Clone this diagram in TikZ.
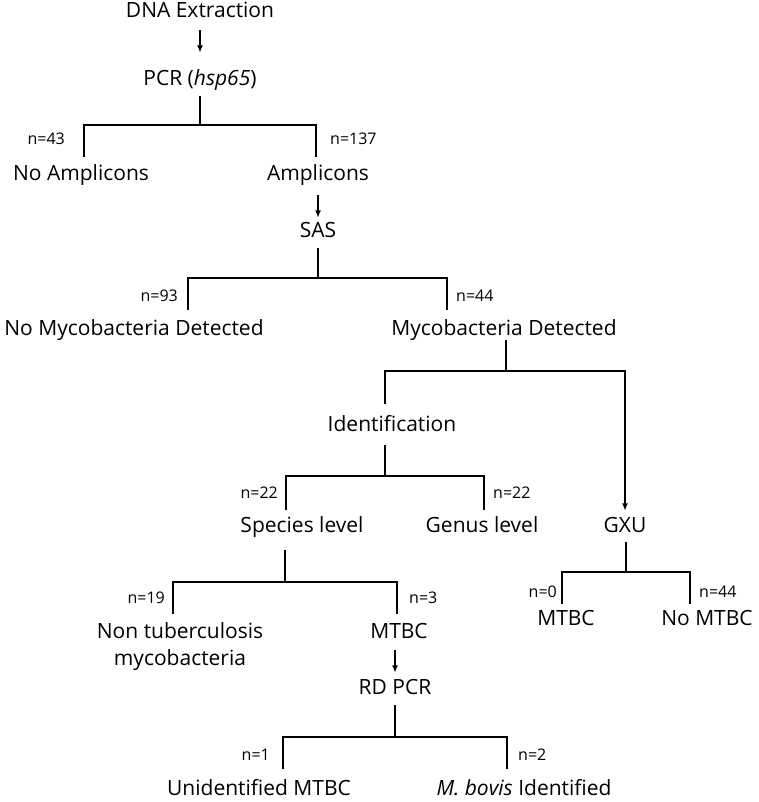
\documentclass[tikz,border=0pt]{standalone}
\usepackage{fontspec}
\setmainfont{Open Sans}
\usepackage{tikz}
\usetikzlibrary{arrows.meta, positioning}

\begin{document}
\begin{tikzpicture}[
        x=1pt, y=-1pt,
        stage/.style={
            inner sep=0pt,
            text height=15pt,
            text depth=4pt,
            font=\fontsize{21}{27}\selectfont
        },
        stagepair/.style={
            inner sep=0pt,
            align=center,
            font=\fontsize{21}{27}\selectfont
        },
        count/.style={
            inner sep=0pt,
            text height=11.5pt,
            text depth=0pt,
            font=\fontsize{16}{18}\selectfont
        },
        branchline/.style={
            line width=1.9pt
        },
        stemline/.style={
            branchline,
            shorten <=6.5pt
        },
        flowarrow/.style={
            -{Latex[length=7.5pt, width=6pt]},
            line width=1.9pt
        }
    ]

        \useasboundingbox (0,0) rectangle (758,802);

        % ---------------------------------------------------------------------
        % Stages of the workflow
        % ---------------------------------------------------------------------

        \node[stage] (dna) at (200,12) {DNA Extraction};
        \node[stage] (pcr) at (200,80) {PCR (\textit{hsp65})};

        \node[stage] (noamp) at (81,175) {No Amplicons};
        \node[stage] (amp) at (318,175) {Amplicons};
        \node[stage] (sas) at (318,232) {SAS};

        \node[stage] (nomyco) at (134,330) {No Mycobacteria Detected};
        \node[stage] (myco) at (504,330) {Mycobacteria Detected};

        \node[stage] (ident) at (392,426) {Identification};

        \node[stage] (species) at (302,527) {Species level};
        \node[stage] (genus) at (482,527) {Genus level};
        \node[stage] (gxu) at (625,527) {GXU};

        \node[stagepair] (ntm) at (180,646.5) {Non tuberculosis\\mycobacteria};
        \node[stage] (mtbcsp) at (399,633) {MTBC};
        \node[stage] (rdpcr) at (395,689) {RD PCR};

        \node[stage] (mtbcgx) at (566,620) {MTBC};
        \node[stage] (nomtbc) at (707,620) {No MTBC};

        \node[stage] (unid) at (259,790) {Unidentified MTBC};
        \node[stage] (bovis) at (524,790) {\textit{M. bovis} Identified};


        % ---------------------------------------------------------------------
        % Branch points and the ends of the drops
        % ---------------------------------------------------------------------

        \coordinate (pcrsplit) at (200,125);
        \coordinate (noampdrop) at (84,157);
        \coordinate (ampdrop) at (316,157);

        \coordinate (sassplit) at (318,278);
        \coordinate (nomycodrop) at (188,310);
        \coordinate (mycodrop) at (447,310);

        \coordinate (mycosplit) at (506,371);
        \coordinate (identdrop) at (385,404);

        \coordinate (identsplit) at (385,476);
        \coordinate (speciesdrop) at (286,510);
        \coordinate (genusdrop) at (484,510);

        \coordinate (speciessplit) at (285,582);
        \coordinate (ntmdrop) at (173,614);
        \coordinate (mtbcspdrop) at (397,614);

        \coordinate (gxusplit) at (626,572);
        \coordinate (mtbcgxdrop) at (562,604);
        \coordinate (nomtbcdrop) at (690,604);

        \coordinate (rdsplit) at (395,737);
        \coordinate (uniddrop) at (283,769);
        \coordinate (bovisdrop) at (507,769);


        % ---------------------------------------------------------------------
        % Straight steps
        % ---------------------------------------------------------------------

        \draw[flowarrow, shorten <=8.5pt, shorten >=17.5pt]
            (dna.south) -- (pcr.north);

        \draw[flowarrow, shorten <=10.5pt, shorten >=4.5pt]
            (amp.south) -- (sas.north);

        \draw[flowarrow, shorten <=7.5pt, shorten >=6.5pt]
            (rdpcr.north |- mtbcsp.south) -- (rdpcr.north);


        % ---------------------------------------------------------------------
        % Splits
        % ---------------------------------------------------------------------

        \draw[stemline] (pcr.south -| pcrsplit) -- (pcrsplit);
        \draw[branchline] (noampdrop) |- (pcrsplit) -| (ampdrop);

        \draw[stemline] (sas.south -| sassplit) -- (sassplit);
        \draw[branchline] (nomycodrop) |- (sassplit) -| (mycodrop);

        % The right arm goes straight on to the cartridge test.
        \draw[branchline] (myco.south -| mycosplit) -- (mycosplit);
        \draw[flowarrow, shorten >=6.5pt]
            (identdrop) |- (mycosplit) -| (gxu.north);

        \draw[stemline, shorten <=9.5pt] (ident.south -| identsplit) -- (identsplit);
        \draw[branchline] (speciesdrop) |- (identsplit) -| (genusdrop);

        \draw[stemline, shorten <=13.5pt] (species.south -| speciessplit) -- (speciessplit);
        \draw[branchline] (ntmdrop) |- (speciessplit) -| (mtbcspdrop);

        \draw[stemline, shorten <=5.5pt] (gxu.south -| gxusplit) -- (gxusplit);
        \draw[branchline] (mtbcgxdrop) |- (gxusplit) -| (nomtbcdrop);

        \draw[stemline] (rdpcr.south -| rdsplit) -- (rdsplit);
        \draw[branchline] (uniddrop) |- (rdsplit) -| (bovisdrop);


        % ---------------------------------------------------------------------
        % Sample counts
        % ---------------------------------------------------------------------

        \node[count, anchor=east] (n43) at (65,139) {n=43};
        \node[count, anchor=west] (n137) at (330,139) {n=137};

        \node[count, anchor=east] (n93) at (178,296) {n=93};
        \node[count, anchor=west] (n44a) at (456,296) {n=44};

        \node[count, anchor=east] (n22a) at (278,493) {n=22};
        \node[count, anchor=west] (n22b) at (493,493) {n=22};

        \node[count, anchor=east] (n19) at (165,598) {n=19};
        \node[count, anchor=west] (n3) at (409,598) {n=3};

        \node[count, anchor=east] (n0) at (557,592) {n=0};
        \node[count, anchor=west] (n44b) at (699,592) {n=44};

        \node[count, anchor=east] (n1) at (270,755) {n=1};
        \node[count, anchor=west] (n2) at (518,755) {n=2};

    \end{tikzpicture}
\end{document}
